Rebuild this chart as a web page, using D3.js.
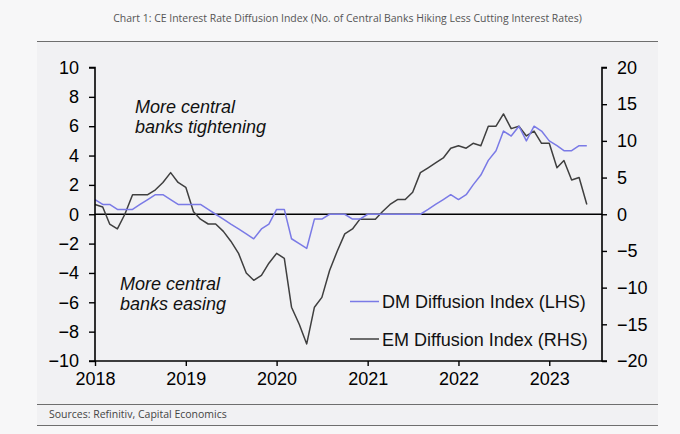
<!DOCTYPE html>
<html>
<head>
<meta charset="utf-8">
<script src="https://cdn.jsdelivr.net/npm/d3@7"></script>
<style>
  body { margin: 0; background: #f7f7f8; }
  svg { display: block; }
  .tick text { font-family: "Liberation Sans", Arial, sans-serif; font-size: 18px; fill: #000; }
</style>
</head>
<body>
<script>
// monthly, starting Jan 2018
const startMonth = new Date(2018, 0, 1);

const dmIndex = [
  1.0, 0.67, 0.67, 0.33, 0.33, 0.33, 0.67, 1.0, 1.33, 1.33, 1.0, 0.67,
  0.67, 0.67, 0.67, 0.33, 0, -0.33, -0.67, -1.0, -1.33, -1.67, -1.0, -0.67,
  0.33, 0.33, -1.67, -2.0, -2.33, -0.33, -0.33, 0, 0, 0, -0.33, -0.33,
  0, 0, 0, 0, 0, 0, 0, 0, 0.33, 0.67, 1.0, 1.33,
  1.0, 1.33, 2.0, 2.67, 3.67, 4.33, 5.67, 5.33, 6.0, 5.0, 6.0, 5.67,
  5.0, 4.67, 4.33, 4.33, 4.67, 4.67
];

const emIndex = [
  1.33, 1.0, -1.33, -2.0, 0, 2.67, 2.67, 2.67, 3.33, 4.33, 5.67, 4.33,
  3.67, 0.33, -0.67, -1.33, -1.33, -2.33, -3.67, -5.33, -8.0, -9.0, -8.33, -6.67,
  -5.33, -6.0, -12.67, -15.0, -17.67, -12.67, -11.33, -7.67, -5.0, -2.67, -2.0, -0.67,
  -0.67, -0.67, 0.33, 1.33, 2.0, 2.0, 3.0, 5.67, 6.33, 7.0, 7.67, 9.0,
  9.33, 9.0, 9.67, 9.33, 12.0, 12.0, 13.67, 11.67, 12.0, 10.67, 11.33, 9.67,
  9.67, 6.33, 7.33, 4.67, 5.0, 1.33
];

const leftTicks = [-10, -8, -6, -4, -2, 0, 2, 4, 6, 8, 10];
const rightTicks = [-20, -15, -10, -5, 0, 5, 10, 15, 20];
const yearTicks = [2018, 2019, 2020, 2021, 2022, 2023];

const seriesNames = ["DM Diffusion Index (LHS)", "EM Diffusion Index (RHS)"];
const seriesColors = ["#7a7ae6", "#3f3f3f"];

const titleText = "Chart 1: CE Interest Rate Diffusion Index (No. of Central Banks Hiking Less Cutting Interest Rates)";
const sourceText = "Sources: Refinitiv, Capital Economics";

const width = 680, height = 434;
const plot = { left: 95, right: 602, top: 67.5, bottom: 361 };

const svg = d3.select("body").append("svg")
  .attr("width", width)
  .attr("height", height);

// panel
svg.append("rect")
  .attr("x", 37).attr("y", 42)
  .attr("width", 621).attr("height", 384)
  .attr("fill", "#f1f1f3");

svg.append("line")
  .attr("x1", 37).attr("x2", 658).attr("y1", 41.5).attr("y2", 41.5)
  .attr("stroke", "#6e6e6e").attr("stroke-width", 1.2);
svg.append("line")
  .attr("x1", 37).attr("x2", 658).attr("y1", 404.5).attr("y2", 404.5)
  .attr("stroke", "#6e6e6e").attr("stroke-width", 1.2);
svg.append("line")
  .attr("x1", 37).attr("x2", 658).attr("y1", 425.5).attr("y2", 425.5)
  .attr("stroke", "#6e6e6e").attr("stroke-width", 1.2);

function fitText(sel, target) {
  const w = sel.node().getComputedTextLength();
  const fs = parseFloat(sel.attr("font-size"));
  sel.attr("font-size", fs * target / w);
}

const title = svg.append("text")
  .attr("x", 347.5).attr("y", 22)
  .attr("text-anchor", "middle")
  .attr("font-family", "Open Sans, Noto Sans, sans-serif")
  .attr("font-size", 10)
  .attr("fill", "#555")
  .text(titleText);
fitText(title, 469);

const source = svg.append("text")
  .attr("x", 49).attr("y", 418)
  .attr("font-family", "Open Sans, Noto Sans, sans-serif")
  .attr("font-size", 10)
  .attr("fill", "#444")
  .text(sourceText);
fitText(source, 178);

const monthDate = i => d3.timeMonth.offset(startMonth, i);

const x = d3.scaleTime()
  .domain([startMonth, new Date(2023, 7, 1)])
  .range([plot.left, plot.right]);

const yLeft = d3.scaleLinear().domain([-10, 10]).range([plot.bottom, plot.top]);
const yRight = d3.scaleLinear().domain([-20, 20]).range([plot.bottom, plot.top]);

// zero line
svg.append("line")
  .attr("x1", plot.left).attr("x2", plot.right)
  .attr("y1", yLeft(0)).attr("y2", yLeft(0))
  .attr("stroke", "#000").attr("stroke-width", 1.6);

const lineLeft = d3.line()
  .x((d, i) => x(monthDate(i)))
  .y(d => yLeft(d));
const lineRight = d3.line()
  .x((d, i) => x(monthDate(i)))
  .y(d => yRight(d));

svg.append("path")
  .datum(emIndex)
  .attr("d", lineRight)
  .attr("fill", "none")
  .attr("stroke", seriesColors[1])
  .attr("stroke-width", 1.5)
  .attr("stroke-linejoin", "round");

svg.append("path")
  .datum(dmIndex)
  .attr("d", lineLeft)
  .attr("fill", "none")
  .attr("stroke", seriesColors[0])
  .attr("stroke-width", 1.5)
  .attr("stroke-linejoin", "round");

// axes
const gLeft = svg.append("g")
  .attr("transform", `translate(${plot.left},0)`)
  .call(d3.axisLeft(yLeft).tickValues(leftTicks).tickSize(6).tickPadding(10).tickFormat(d3.format("d")));

const gRight = svg.append("g")
  .attr("transform", `translate(${plot.right},0)`)
  .call(d3.axisRight(yRight).tickValues(rightTicks).tickSize(5).tickPadding(10).tickFormat(d3.format("d")));

const gBottom = svg.append("g")
  .attr("transform", `translate(0,${plot.bottom})`)
  .call(d3.axisBottom(x)
    .tickValues(yearTicks.map(y => new Date(y, 0, 1)))
    .tickSize(5).tickPadding(6)
    .tickFormat(d3.timeFormat("%Y")));

[gLeft, gRight, gBottom].forEach(g => {
  g.select(".domain").attr("stroke", "#000").attr("stroke-width", 1.6);
  g.selectAll(".tick line").attr("stroke", "#000").attr("stroke-width", 1.4);
});
gLeft.select(".domain").attr("d", `M-6,${plot.top}H0V${plot.bottom}H-6`);
gRight.select(".domain").attr("d", `M5,${plot.top}H0V${plot.bottom}H5`);
gBottom.select(".domain").attr("d", `M${plot.left},0H${plot.right}`);

// annotations
const noteFont = "Liberation Sans, Arial, sans-serif";
const notes = [
  { x: 135, y: 113, t: "More central" },
  { x: 135, y: 133, t: "banks tightening" },
  { x: 120, y: 290, t: "More central" },
  { x: 120, y: 310, t: "banks easing" }
];
svg.append("g").selectAll("text")
  .data(notes)
  .join("text")
  .attr("x", d => d.x).attr("y", d => d.y)
  .attr("font-family", noteFont)
  .attr("font-style", "italic")
  .attr("font-size", 18)
  .attr("fill", "#111")
  .text(d => d.t);

// legend
const legend = svg.append("g")
  .selectAll("g")
  .data(seriesNames)
  .join("g")
  .attr("transform", (d, i) => `translate(350,${301.5 + i * 37.5})`);
legend.append("line")
  .attr("x1", 0).attr("x2", 29)
  .attr("stroke", (d, i) => seriesColors[i])
  .attr("stroke-width", 1.5);
legend.append("text")
  .attr("x", 32).attr("y", 6.5)
  .attr("font-family", noteFont)
  .attr("font-size", 18)
  .attr("fill", "#111")
  .text(d => d);
</script>
</body>
</html>
